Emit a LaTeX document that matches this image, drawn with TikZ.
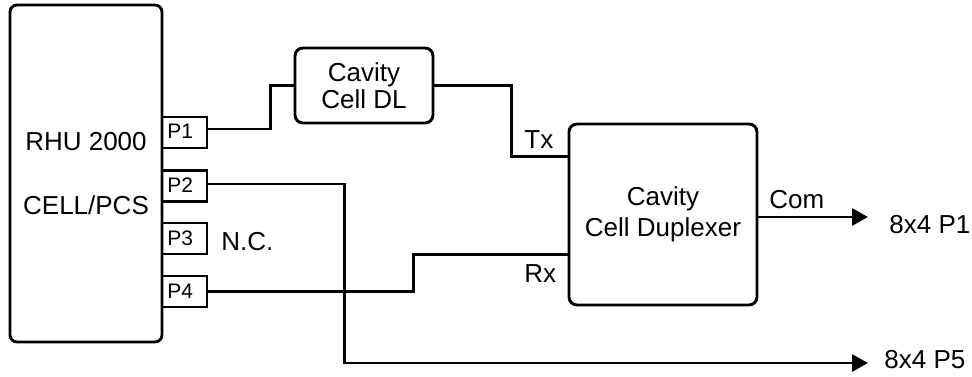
\documentclass[tikz,border=0pt]{standalone}
\usepackage{fontspec}
\setmainfont{Liberation Sans}
\usetikzlibrary{arrows.meta}
\begin{document}
\begin{tikzpicture}[x=1pt,y=-1pt, line width=2.9pt,
  box/.style={draw, rounded corners=8pt, inner sep=0pt, line width=2.9pt},
  port/.style={draw, minimum width=45pt, minimum height=31pt, inner sep=0pt, line width=2.9pt},
  big/.style={font=\fontsize{26}{31}\selectfont, inner sep=0pt},
  small/.style={font=\fontsize{21}{25}\selectfont, inner sep=0pt},
  wire/.style={line width=2.9pt},
  arr/.style={wire, -{Triangle[length=16pt,width=17pt]}}
]
\useasboundingbox (0,0) rectangle (972,377);
% main blocks
\node[box, rounded corners=7pt, minimum width=152pt, minimum height=337pt] (rhu) at (86,173.5) {};
\node[big, anchor=base] (rhut1) at (86,150) {RHU 2000};
\node[big, anchor=base] (rhut2) at (86,214.5) {CELL/PCS};
\node[box, minimum width=138pt, minimum height=75pt, align=center, font=\fontsize{26}{27}\selectfont] (dl) at (364,85.5) {Cavity\\Cell DL};
\node[box, minimum width=188pt, minimum height=181pt, align=center, font=\fontsize{26}{31}\selectfont] (dup) at (663,214.5) {Cavity\\Cell Duplexer};
% ports
\node[port] (p1) at (184.5,132.5) {};
\node[port] (p2) at (184.5,186) {};
\node[port] (p3) at (184.5,238.5) {};
\node[port] (p4) at (184.5,291.5) {};
\node[small, anchor=base west] (p1t) at (166,139) {P1};
\node[small, anchor=base west] (p2t) at (166,193) {P2};
\node[small, anchor=base west] (p3t) at (166,245) {P3};
\node[small, anchor=base west] (p4t) at (166,298) {P4};
\node[big, anchor=base west] (nc) at (220,250) {N.C.};
% output targets
\coordinate (a1) at (868,217);
\coordinate (a5) at (868,363);
\node[big, anchor=base west] (o1) at (888,233) {8x4 P1};
\node[big, anchor=base west] (o5) at (883,368) {8x4 P5};
% labels
\node[big, anchor=base west] (tx) at (523,149) {Tx};
\node[big, anchor=base west] (rx) at (523,282) {Rx};
\node[big, anchor=base west] (com) at (768,208) {Com};
% wires
\draw[wire] ([yshift=3.5pt]p1.east) -| ([xshift=-23pt]dl.west) -- (dl.west);
\draw[wire] (dl.east) -- ++(77,0) |- ([yshift=-34pt]dup.north west);
\draw[wire] (p4.east) -- ++(205,0) |- ([yshift=-132pt]dup.north west);
\draw[arr] ([yshift=2pt]p2.east) -- ++(136,0) |- (a5);
\draw[arr] ([yshift=-2.5pt]dup.east) -- (a1);
\end{tikzpicture}
\end{document}
